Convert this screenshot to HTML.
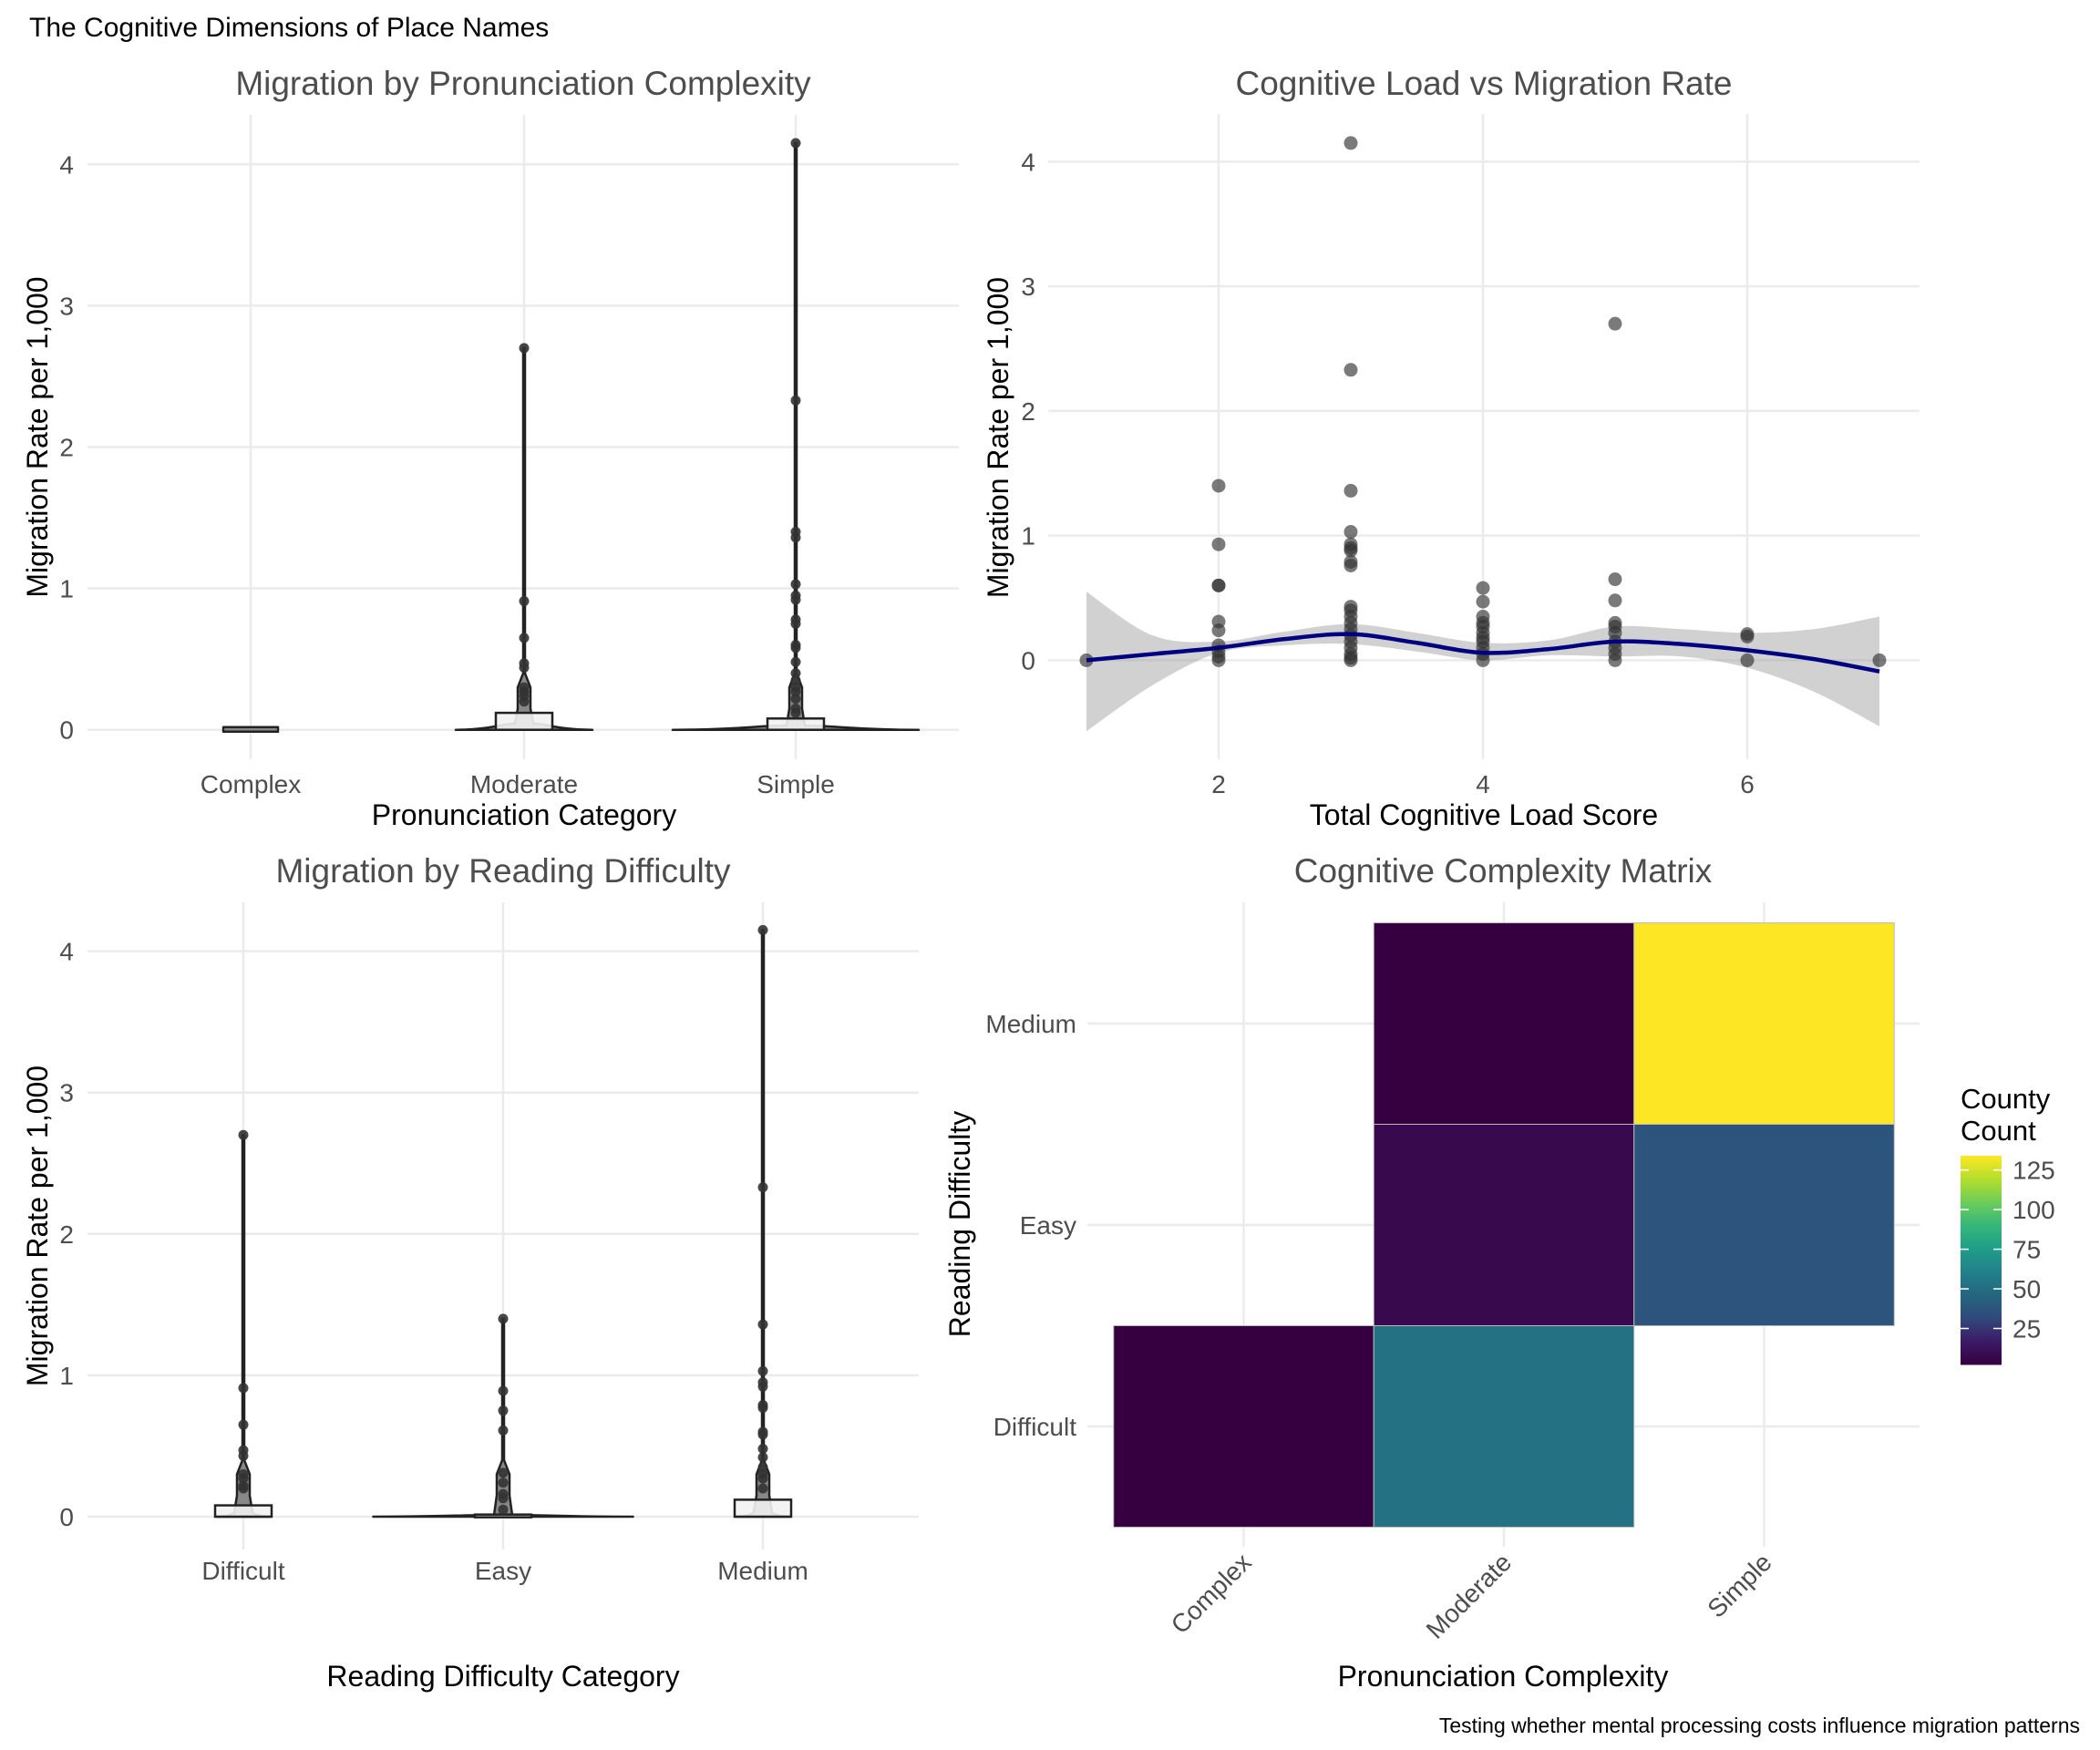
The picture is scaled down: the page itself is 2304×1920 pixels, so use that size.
<!DOCTYPE html>
<html><head><meta charset="utf-8"><style>
html,body{margin:0;padding:0;background:#fff}
svg{display:block;font-family:"Liberation Sans",Arial,sans-serif}
</style></head><body>
<svg id="c" width="2304" height="1920" viewBox="0 0 2304 1920">
<text x="32" y="40" font-size="30" fill="#000">The Cognitive Dimensions of Place Names</text>
<text x="2282" y="1901" font-size="23" fill="#000" text-anchor="end">Testing whether mental processing costs influence migration patterns</text>
</svg>
<script>
// ---- data ----
const pronCats = ["Complex","Moderate","Simple"];
const pronPoints = [[0],[2.7,0.91,0.65,0.47,0.44,0.3,0.27,0.24,0.2],[4.15,2.33,1.4,1.36,1.03,0.95,0.92,0.78,0.75,0.6,0.58,0.48,0.4,0.35,0.3,0.27,0.22,0.15,0.12]];
const pronBoxTop = [0.01,0.12,0.08];
const pronViolinWidth = [0.2,0.5,0.9];
const pronViolinHeight = [0.01,0.045,0.03];
const readCats = ["Difficult","Easy","Medium"];
const readPoints = [[2.7,0.91,0.65,0.47,0.43,0.3,0.27,0.22,0.2],[1.4,0.89,0.75,0.61,0.31,0.24,0.16,0.13,0.05],[4.15,2.33,1.36,1.03,0.95,0.92,0.79,0.77,0.6,0.58,0.48,0.42,0.35,0.3,0.27,0.2]];
const readBoxTop = [0.08,0.015,0.12];
const readViolinWidth = [0.2,0.95,0.2];
const readViolinHeight = [0.03,0.012,0.03];
const yTicks = [0,1,2,3,4];
const loadX = [1,2,2,2,2,2,2,2,2,2,2,3,3,3,3,3,3,3,3,3,3,3,3,3,3,3,3,3,3,3,3,4,4,4,4,4,4,4,4,4,4,4,5,5,5,5,5,5,5,5,5,5,6,6,6,7];
const loadY = [0,1.4,0.93,0.6,0.6,0.31,0.24,0.12,0.07,0.03,0,4.15,2.33,1.36,1.03,0.93,0.9,0.88,0.79,0.76,0.43,0.4,0.35,0.3,0.25,0.2,0.15,0.1,0.05,0.02,0,0.58,0.47,0.35,0.3,0.27,0.22,0.18,0.15,0.1,0.05,0,2.7,0.65,0.48,0.3,0.27,0.22,0.15,0.1,0.05,0,0.21,0.19,0,0];
const smoothX = [1,1.5,2,2.5,3,3.5,4,4.5,5,5.5,6,6.5,7];
const smoothY = [0,0.05,0.1,0.17,0.21,0.14,0.06,0.09,0.15,0.13,0.08,0.01,-0.09];
const smoothLo = [-0.57,-0.2,0.06,0.12,0.13,0.07,0.0,0.04,0.03,0.03,-0.06,-0.25,-0.53];
const smoothHi = [0.55,0.2,0.15,0.23,0.29,0.22,0.14,0.16,0.27,0.25,0.22,0.25,0.35];
const xTicks2 = [2,4,6];
const hmX = ["Complex","Moderate","Simple"];
const hmY = ["Difficult","Easy","Medium"];
const hmCells = [[0,0,2],[1,0,52],[1,1,7],[1,2,2],[2,1,37],[2,2,134]];
const legendTicks = [25,50,75,100,125];

const svg = document.getElementById('c');
const NS = "http://www.w3.org/2000/svg";
function mk(tag, attrs, parent){const e=document.createElementNS(NS,tag);for(const k in attrs)e.setAttribute(k,attrs[k]);(parent||svg).appendChild(e);return e;}
function txt(x,y,s,size,fill,anchor,parent){const t=mk('text',{x:x,y:y,'font-size':size,fill:fill,'text-anchor':anchor||'middle'},parent);t.textContent=s;return t;}
const GRID="#ebebeb";
const TICK=28;

function violinPanel(name, cats, pts, boxTop, vw, vh, left, right, top, bottom, catX, y0, unit, title, titleY, xlabY, xtitle, xtitleY, ytitleX){
  const g=mk('g',{});
  
  
  const Y=v=>y0-v*unit;
  yTicks.forEach(t=>{const l=mk('line',{x1:left,x2:right,y1:Y(t),y2:Y(t),stroke:GRID,'stroke-width':2.5},g);
    
    const tl=txt(left-15,Y(t)+10,String(t),TICK,'#4d4d4d','end',g);
    });
  cats.forEach((c,i)=>{const x=catX[i];
    const l=mk('line',{x1:x,x2:x,y1:top,y2:bottom,stroke:GRID,'stroke-width':2.5},g);
    
    const tl=txt(x,xlabY,c,TICK,'#4d4d4d','middle',g);
    });
  cats.forEach((c,i)=>{const x=catX[i];const p=pts[i];const mx=Math.max(...p);
    const hw=vw[i]*150;const h=vh[i];
    let d;
    if(mx<=0){
      d=`M${x-hw},${Y(0)+2} L${x+hw},${Y(0)+2} L${x+hw},${Y(0)-3} L${x-hw},${Y(0)-3} Z`;
    } else {
      d=`M${x-hw},${Y(0)} C${x-hw*0.5},${Y(0)} ${x-hw*0.3},${Y(h)} ${x-10},${Y(h)} L${x-7},${Y(0.15)} L${x-7},${Y(0.3)} L${x-1},${Y(0.4)} L${x-1},${Y(mx)} L${x+1},${Y(mx)} L${x+1},${Y(0.4)} L${x+7},${Y(0.3)} L${x+7},${Y(0.15)} L${x+10},${Y(h)} C${x+hw*0.3},${Y(h)} ${x+hw*0.5},${Y(0)} ${x+hw},${Y(0)} Z`;
    }
    const v=mk('path',{d:d,fill:'#888',stroke:'#222','stroke-width':2.5,'stroke-linejoin':'round'},g);
    
    if(mx>0){
      const b=mk('rect',{x:x-31,y:Y(boxTop[i]),width:62,height:Math.max(3,Y(0)-Y(boxTop[i])),fill:'#f2f2f2','fill-opacity':0.9,stroke:'#222','stroke-width':2.5},g);
      
      p.forEach(v2=>{const ci=mk('circle',{cx:x,cy:Y(v2),r:5.5,fill:'#333','fill-opacity':0.9},g);
        });
    }
  });
  const tt=txt((left+right)/2,titleY,title,37,'#4d4d4d','middle',g);
  
  const xt=txt(catX[1],xtitleY,xtitle,32,'#000','middle',g);
  
  const yt=txt(0,0,'Migration Rate per 1,000',32,'#000','middle',g);
  yt.setAttribute('transform',`translate(${ytitleX},${(top+bottom)/2}) rotate(-90)`);
  
}
violinPanel('pronunciation-violin-panel',pronCats,pronPoints,pronBoxTop,pronViolinWidth,pronViolinHeight,96,1052,126,833,[275,575,873],800.7,155.1,'Migration by Pronunciation Complexity',104,870,'Pronunciation Category',905,52);
violinPanel('reading-violin-panel',readCats,readPoints,readBoxTop,readViolinWidth,readViolinHeight,96,1008,990,1700,[267,552,837],1664,155.1,'Migration by Reading Difficulty',968,1733,'Reading Difficulty Category',1850,52);

// ---- scatter ----
(function(){
  const g=mk('g',{});
  
  
  const L=1150,R=2106,T=125,B=833;
  const X=v=>1192+(v-1)*145, Y=v=>724.4-v*136.75;
  yTicks.forEach(t=>{const l=mk('line',{x1:L,x2:R,y1:Y(t),y2:Y(t),stroke:GRID,'stroke-width':2.5},g);
    
    const tl=txt(L-14,Y(t)+10,String(t),TICK,'#4d4d4d','end',g);
    });
  xTicks2.forEach(t=>{const l=mk('line',{x1:X(t),x2:X(t),y1:T,y2:B,stroke:GRID,'stroke-width':2.5},g);
    
    const tl=txt(X(t),870,String(t),TICK,'#4d4d4d','middle',g);
    });
  // Catmull-Rom smoothing through given points
  function crPath(xs,ys,start){const P=xs.map((x,i)=>[X(x),Y(ys[i])]);let d=(start?'M':'L')+P[0][0]+','+P[0][1];
    for(let i=0;i<P.length-1;i++){const p0=P[Math.max(0,i-1)],p1=P[i],p2=P[i+1],p3=P[Math.min(P.length-1,i+2)];
      const c1=[p1[0]+(p2[0]-p0[0])/6,p1[1]+(p2[1]-p0[1])/6],c2=[p2[0]-(p3[0]-p1[0])/6,p2[1]-(p3[1]-p1[1])/6];
      d+=` C${c1[0]},${c1[1]} ${c2[0]},${c2[1]} ${p2[0]},${p2[1]}`;}return d;}
  const rx=smoothX.slice().reverse(), rlo=smoothLo.slice().reverse();
  const rib=mk('path',{d:crPath(smoothX,smoothHi,true)+' '+crPath(rx,rlo,false)+' Z',fill:'#999','fill-opacity':0.45,stroke:'none'},g);
  
  loadX.forEach((xv,i)=>{const c=mk('circle',{cx:X(xv),cy:Y(loadY[i]),r:7.5,fill:'#333','fill-opacity':0.65},g);
    });
  const ln=mk('path',{d:crPath(smoothX,smoothY,true),fill:'none',stroke:'#000080','stroke-width':4.5,'stroke-linejoin':'round'},g);
  
  const tt=txt(1628,104,'Cognitive Load vs Migration Rate',37,'#4d4d4d','middle',g);
  
  const xt=txt(1628,905,'Total Cognitive Load Score',32,'#000','middle',g);
  
  const yt=txt(0,0,'Migration Rate per 1,000',32,'#000','middle',g);
  yt.setAttribute('transform','translate(1106,480) rotate(-90)');
  
})();

// ---- heatmap ----
(function(){
  const g=mk('g',{});
  
  
  const cx=i=>1364.5+i*285.5, cy=j=>1565-j*221;
  const vir=[[0,'#360040'],[0.111,'#3b1a66'],[0.222,'#31497b'],[0.333,'#24667e'],[0.444,'#22808b'],[0.556,'#1f9e89'],[0.667,'#35b779'],[0.778,'#6dcd59'],[0.889,'#b4de2c'],[1,'#fde725']];
  const hex=h=>[1,3,5].map(k=>parseInt(h.substr(k,2),16));
  const vmin=2,vmax=134;
  function col(v){let t=(v-vmin)/(vmax-vmin);t=Math.max(0,Math.min(1,t));
    for(let k=1;k<vir.length;k++){if(t<=vir[k][0]){const a=vir[k-1],b=vir[k];const f=(t-a[0])/(b[0]-a[0]);
      const ca=hex(a[1]),cb=hex(b[1]);
      return 'rgb('+ca.map((c,m)=>Math.round(c+(cb[m]-c)*f)).join(',')+')';}}return '#fde725';}
  hmY.forEach((c,j)=>{const l=mk('line',{x1:1193,x2:2106,y1:cy(j),y2:cy(j),stroke:GRID,'stroke-width':2.5},g);
    
    const tl=txt(1181,cy(j)+10,c,TICK,'#4d4d4d','end',g);
    });
  hmX.forEach((c,i)=>{const l=mk('line',{x1:cx(i),x2:cx(i),y1:990,y2:1697,stroke:GRID,'stroke-width':2.5},g);
    
    const tl=txt(0,0,c,TICK,'#4d4d4d','end',g);
    tl.setAttribute('transform',`translate(${cx(i)+10},${1716}) rotate(-45)`);
    });
  hmCells.forEach(([i,j,v])=>{const r=mk('rect',{x:cx(i)-142.75,y:cy(j)-110.5,width:285.5,height:221,fill:col(v),stroke:'#bbb','stroke-width':1},g);
    });
  const tt=txt(1649,968,'Cognitive Complexity Matrix',37,'#4d4d4d','middle',g);
  
  const xt=txt(1649,1850,'Pronunciation Complexity',32,'#000','middle',g);
  
  const yt=txt(0,0,'Reading Difficulty',32,'#000','middle',g);
  yt.setAttribute('transform','translate(1064,1343) rotate(-90)');
  
  // legend
  const lg=mk('g',{},g);
  
  
  const defs=mk('defs',{},lg);
  const gr=mk('linearGradient',{id:'vg',x1:0,y1:1,x2:0,y2:0},defs);
  vir.forEach(s=>mk('stop',{offset:s[0],'stop-color':s[1]},gr));
  const LT=1268,LB=1497.5;
  const lb=mk('rect',{x:2151,y:LT,width:45,height:LB-LT,fill:'url(#vg)'},lg);
  
  const LY=v=>LB-(v-vmin)/(vmax-vmin)*(LB-LT);
  legendTicks.forEach(t=>{mk('line',{x1:2151,x2:2160,y1:LY(t),y2:LY(t),stroke:'#fff','stroke-width':1.5},lg);
    mk('line',{x1:2187,x2:2196,y1:LY(t),y2:LY(t),stroke:'#fff','stroke-width':1.5},lg);
    const tl=txt(2208,LY(t)+10,String(t),TICK,'#4d4d4d','start',lg);
    });
  const l1=txt(2151,1216,'County',31,'#000','start',lg);
  
  const l2=txt(2151,1251,'Count',31,'#000','start',lg);
  
})();
</script>
</body></html>
